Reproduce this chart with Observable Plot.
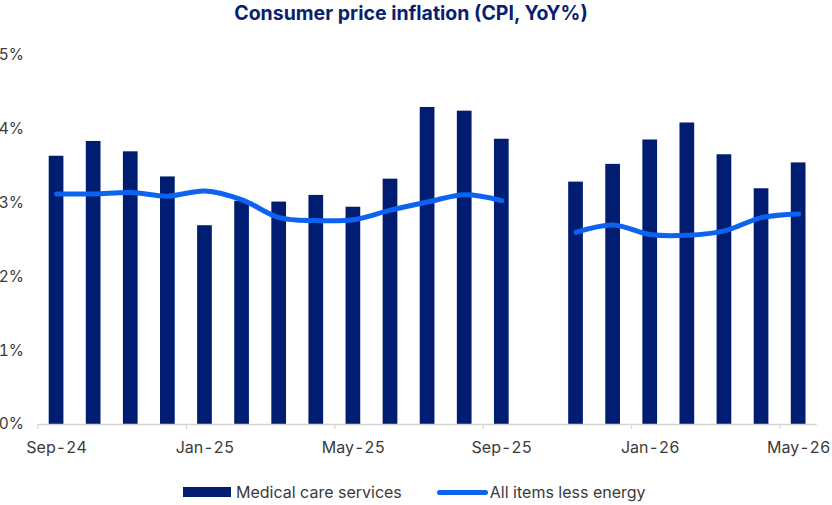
<!DOCTYPE html>
<html>
<head>
<meta charset="utf-8">
<script src="https://cdn.jsdelivr.net/npm/d3@7"></script>
<script src="https://cdn.jsdelivr.net/npm/@observablehq/plot@0.6"></script>
<style>
  html, body { margin: 0; padding: 0; background: #fff; }
  body { width: 832px; height: 505px; overflow: hidden; font-family: Inter, "Noto Sans", sans-serif; }
  .title { height: 30px; line-height: 26px; text-align: center; font-size: 19.5px; font-weight: 700; color: #0b1f6f; padding-right: 10px; }
  .legend { height: 30px; display: flex; align-items: center; padding-top: 2px; padding-left: 183px; font-size: 16px; color: #3a3a3a; }
  .legend .item { display: flex; align-items: center; }
  .legend .bar { width: 48px; height: 10px; background: #001d72; margin-right: 5px; }
  .legend .line { width: 51px; height: 5px; border-radius: 3px; background: #0b63ef; margin-right: 2px; margin-left: 35px; }
</style>
</head>
<body>
<div class="title">Consumer price inflation (CPI, YoY%)</div>
<div id="chart"></div>
<div class="legend">
  <div class="item"><span class="bar"></span>Medical care services</div>
  <div class="item"><span class="line"></span>All items less energy</div>
</div>
<script>
// Monthly categories (October 2025 has no release)
const months = ["Sep-24","Oct-24","Nov-24","Dec-24","Jan-25","Feb-25","Mar-25","Apr-25","May-25","Jun-25","Jul-25","Aug-25","Sep-25","Oct-25","Nov-25","Dec-25","Jan-26","Feb-26","Mar-26","Apr-26","May-26"];

// Medical care services, YoY %
const medicalCare = [3.63, 3.83, 3.69, 3.35, 2.69, 3.02, 3.01, 3.10, 2.94, 3.32, 4.29, 4.24, 3.86, null, 3.28, 3.52, 3.85, 4.08, 3.65, 3.19, 3.54];

// All items less energy, YoY %
const lessEnergy = [3.12, 3.12, 3.14, 3.09, 3.16, 3.04, 2.80, 2.76, 2.77, 2.90, 3.01, 3.11, 3.03, null, 2.60, 2.70, 2.57, 2.56, 2.62, 2.80, 2.85];

// Labelled months on the x axis
const labelledMonths = ["Sep-24", "Jan-25", "May-25", "Sep-25", "Jan-26", "May-26"];
const yTicks = [0, 1, 2, 3, 4, 5];

const rows = months.map((month, i) => ({month, i, medical: medicalCare[i], core: lessEnergy[i]}));
const labelIdx = labelledMonths.map(m => months.indexOf(m));

const chart = Plot.plot({
  width: 832,
  height: 445,
  marginTop: 24.5,
  marginBottom: 51,
  marginLeft: 37.5,
  marginRight: 15.3,
  style: {fontFamily: "Inter, 'Noto Sans', sans-serif", fontSize: "16px", color: "#3a3a3a", background: "#fff", overflow: "visible"},
  x: {domain: [0, months.length], axis: null},
  y: {domain: [0, 5], axis: null},
  marks: [
    Plot.axisY({ticks: yTicks, tickSize: 0, tickPadding: 14, tickFormat: d => d + "%", fontSize: 15.5, label: null}),
    Plot.axisX({ticks: labelIdx, tickSize: 5, tickFormat: () => "", stroke: "#cfcfcf", label: null}),
    Plot.axisX({ticks: labelIdx.map(i => i + 0.5), tickSize: 0, tickPadding: 17.5, tickFormat: d => months[d - 0.5], fontSize: 16, label: null}),
    Plot.rectY(rows.filter(d => d.medical != null), {
      x1: d => d.i, x2: d => d.i + 1, y1: 0, y2: "medical",
      insetLeft: 11.2, insetRight: 11.2, fill: "#001d72"
    }),
    Plot.ruleY([0], {stroke: "#d6d6d6", strokeWidth: 1.5}),
    Plot.line(rows, {
      x: d => d.i + 0.5, y: d => d.core == null ? NaN : d.core,
      stroke: "#0b63ef", strokeWidth: 5, curve: "catmull-rom", strokeLinecap: "round", strokeLinejoin: "round"
    })
  ]
});
document.getElementById("chart").appendChild(chart);
</script>
</body>
</html>
